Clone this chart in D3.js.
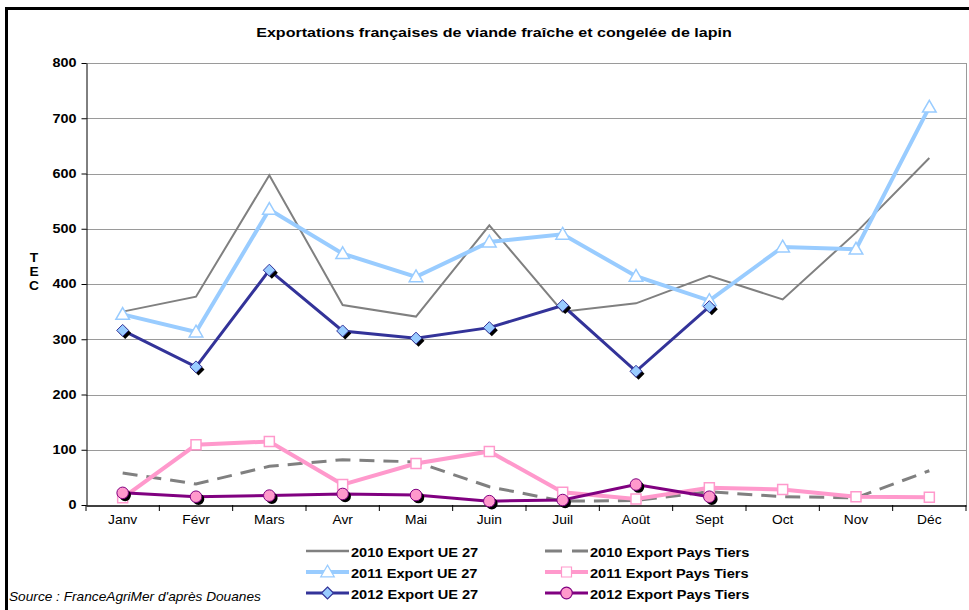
<!DOCTYPE html>
<html><head><meta charset="utf-8">
<script src="https://cdnjs.cloudflare.com/ajax/libs/d3/7.8.5/d3.min.js"></script>
<style>body{margin:0;background:#fff}svg{display:block;font-family:Arial,"Liberation Sans",sans-serif}</style>
</head><body><svg id="c" width="969" height="610"></svg>
<script>
const months = ["Janv","Févr","Mars","Avr","Mai","Juin","Juil","Août","Sept","Oct","Nov","Déc"];
const yTicks = [0,100,200,300,400,500,600,700,800];
const ue2010 = [350,377,597,362,341,506,350,365,415,372,493,628];
const ue2011 = [345,313,535,455,413,476,490,414,370,467,463,720];
const ue2012 = [316,250,425,315,302,321,361,242,359];
const pt2010 = [58,38,70,82,78,33,7,8,24,15,13,62];
const pt2011 = [13,109,115,37,75,97,23,11,31,28,15,14];
const pt2012 = [22,15,17,20,18,7,9,37,15];
const legendLabels = ["2010 Export UE 27","2010 Export Pays Tiers","2011 Export UE 27","2011 Export Pays Tiers","2012 Export UE 27","2012 Export Pays Tiers"];

const svg = d3.select("#c");
const L=86,R=966,T=63,B=505;
const x = d3.scaleBand().domain(months).range([L,R]);
const y = d3.scaleLinear().domain([0,800]).range([B,T]);

function stext(g,x0,y0,sx,txt,size,weight,anchor,style){
  return g.append("text").attr("transform",`translate(${x0},${y0}) scale(${sx},1)`)
    .attr("text-anchor",anchor||"start").attr("font-size",size).attr("font-weight",weight||"normal")
    .attr("font-style",style||"normal").attr("fill","#000").text(txt);
}

// outer border
svg.append("rect").attr("x",6.5).attr("y",8.5).attr("width",1000).attr("height",700).attr("fill","none").attr("stroke","#000").attr("stroke-width",3);

stext(svg,494,37,1.19,"Exportations françaises de viande fraîche et congelée de lapin",13.5,"bold","middle");

// grid
svg.append("g").selectAll("line").data(yTicks.slice(1)).join("line")
 .attr("x1",L).attr("x2",R).attr("y1",d=>Math.round(y(d))+0.5).attr("y2",d=>Math.round(y(d))+0.5).attr("stroke","#9a9a9a").attr("stroke-width",1);
svg.append("line").attr("x1",R+0.5).attr("x2",R+0.5).attr("y1",T).attr("y2",B).attr("stroke","#9a9a9a");

// y axis
const ya = svg.append("g").attr("transform",`translate(${L+0.5},0)`).call(d3.axisLeft(y).tickValues(yTicks).tickSize(5).tickPadding(4).tickSizeOuter(0));
ya.selectAll("text").attr("x",null).attr("transform","translate(-10,0) scale(1.2,1)")
  .attr("font-size",12).attr("font-weight","bold").attr("fill","#000").attr("font-family","Arial, Liberation Sans, sans-serif");
ya.selectAll("line,path").attr("stroke","#000");

// x axis
const xa = svg.append("g").attr("transform",`translate(0,${B+0.5})`).call(d3.axisBottom(x).tickSize(0).tickPadding(10));
xa.selectAll("text").attr("y",null).attr("transform","translate(0,10) scale(1.15,1)")
  .attr("font-size",12).attr("fill","#000").attr("font-family","Arial, Liberation Sans, sans-serif");
xa.select("path").attr("stroke","#000").attr("stroke-width",1.5);
const bounds = d3.range(13).map(i=>L+i*x.bandwidth());
svg.append("g").selectAll("line").data(bounds).join("line").attr("x1",d=>d).attr("x2",d=>d).attr("y1",B).attr("y2",B+6).attr("stroke","#000");

// y title
["T","E","C"].forEach((c,i)=>stext(svg,34,262+i*14,1.15,c,12,"bold","middle"));

const cx = i=>x(months[i])+x.bandwidth()/2;
const line = d3.line().x((d,i)=>cx(i)).y(d=>y(d));

function drawLine(data,color,w,dash){
  svg.append("path").datum(data).attr("d",line).attr("fill","none").attr("stroke",color).attr("stroke-width",w).attr("stroke-dasharray",dash||null).attr("stroke-linejoin","miter");
}
const tri = d3.symbol().type(d3.symbolTriangle).size(80)();
const sq = d3.symbol().type(d3.symbolSquare).size(100)();
const dia = "M0,-6L6,0L0,6L-6,0Z";
const circ = d3.symbol().type(d3.symbolCircle).size(105)();
function markers(data,path,fill,stroke,sw,shadow,dy){
  const g = svg.append("g");
  if(shadow) g.selectAll(".s").data(data).join("path").attr("d",path).attr("transform",(d,i)=>`translate(${cx(i)+2.5},${y(d)+2.5+(dy||0)})`).attr("fill","#000");
  g.selectAll(".m").data(data).join("path").attr("d",path).attr("transform",(d,i)=>`translate(${cx(i)},${y(d)+(dy||0)})`).attr("fill",fill).attr("stroke",stroke).attr("stroke-width",sw);
}

drawLine(ue2010,"#808080",2);
drawLine(pt2010,"#808080",3,"15,9");
drawLine(pt2011,"#FF99CC",4);
markers(pt2011,sq,"#fff","#FF99CC",1.5);
drawLine(ue2011,"#99CCFF",4);
markers(ue2011,tri,"#fff","#99CCFF",1.5,false,1);
drawLine(ue2012,"#333399",3);
markers(ue2012,dia,"#99CCFF","#333399",1,true);
drawLine(pt2012,"#800080",3);
markers(pt2012,circ,"#FF99CC","#800080",1,true);

// legend
const leg = [
 {c:"#808080",w:2.5},{c:"#808080",w:3,dash:"17,10"},
 {c:"#99CCFF",w:4,m:tri,f:"#fff",s:"#99CCFF",dy:1},{c:"#FF99CC",w:4,m:sq,f:"#fff",s:"#FF99CC"},
 {c:"#333399",w:3,m:dia,f:"#99CCFF",s:"#333399"},{c:"#800080",w:3,m:circ,f:"#FF99CC",s:"#800080"}
];
leg.forEach((d,i)=>{
  const col=i%2,row=Math.floor(i/2);
  const x0 = col?545:306, yy = 551+row*21;
  svg.append("line").attr("x1",x0).attr("x2",x0+43).attr("y1",yy).attr("y2",yy).attr("stroke",d.c).attr("stroke-width",d.w).attr("stroke-dasharray",d.dash||null);
  if(d.m) svg.append("path").attr("d",d.m).attr("transform",`translate(${x0+21.5},${yy+(d.dy||0)})`).attr("fill",d.f).attr("stroke",d.s).attr("stroke-width",1.2);
  stext(svg,x0+45,yy+5.5,1.08,legendLabels[i],13.5,"bold");
});

stext(svg,9,601,1.14,"Source : FranceAgriMer d'après Douanes",12,"normal","start","italic");
</script></body></html>
